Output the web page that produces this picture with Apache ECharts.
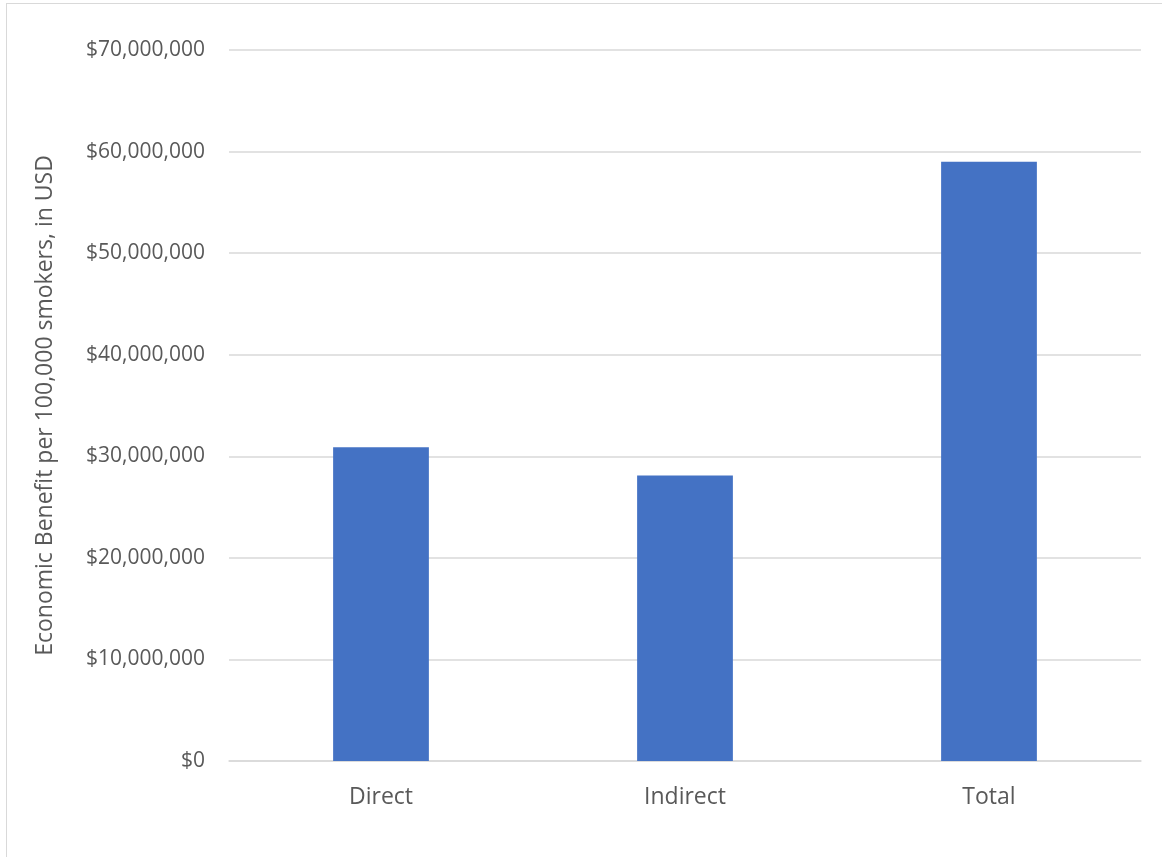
<!DOCTYPE html>
<html>
<head>
<meta charset="utf-8">
<script src="https://cdn.jsdelivr.net/npm/echarts@6/dist/echarts.min.js"></script>
<style>
html,body{margin:0;padding:0;background:#fff;}
#frame{position:absolute;left:6px;top:3px;width:1180px;height:880px;border:1.5px solid #d9d9d9;box-sizing:border-box;}
#chart{position:absolute;left:0;top:0;width:1162px;height:857px;}
</style>
</head>
<body>
<div id="frame"></div>
<div id="chart"></div>
<script>
const categories = ['Direct', 'Indirect', 'Total'];
const benefitValues = [30900000, 28100000, 59000000];
const yAxisTitle = 'Economic Benefit per 100,000 smokers, in USD';

const chart = echarts.init(document.getElementById('chart'));
const fmt = v => '$' + v.toLocaleString('en-US');
const ff = 'Open Sans, Liberation Sans, sans-serif';
chart.setOption({
  animation: false,
  grid: {left: 229, right: 21, top: 50, bottom: 96, containLabel: false},
  xAxis: {
    type: 'category',
    data: categories,
    axisLine: {show: true, lineStyle: {color: '#d9d9d9', width: 1.5}},
    axisTick: {show: false},
    axisLabel: {color: '#595959', fontSize: 23, fontFamily: ff, margin: 25}
  },
  yAxis: {
    type: 'value',
    min: 0, max: 70000000, interval: 10000000,
    name: yAxisTitle,
    nameLocation: 'middle',
    nameGap: 172,
    nameTextStyle: {color: '#595959', fontSize: 23, fontFamily: ff},
    axisLine: {show: false},
    axisTick: {show: false},
    splitLine: {lineStyle: {color: '#d9d9d9', width: 1.5}},
    axisLabel: {color: '#595959', fontSize: 21, fontFamily: ff, margin: 24, formatter: fmt}
  },
  series: [{
    type: 'bar',
    data: benefitValues,
    barWidth: '31.5%',
    itemStyle: {color: '#4472c4'}
  }]
});
</script>
</body>
</html>
